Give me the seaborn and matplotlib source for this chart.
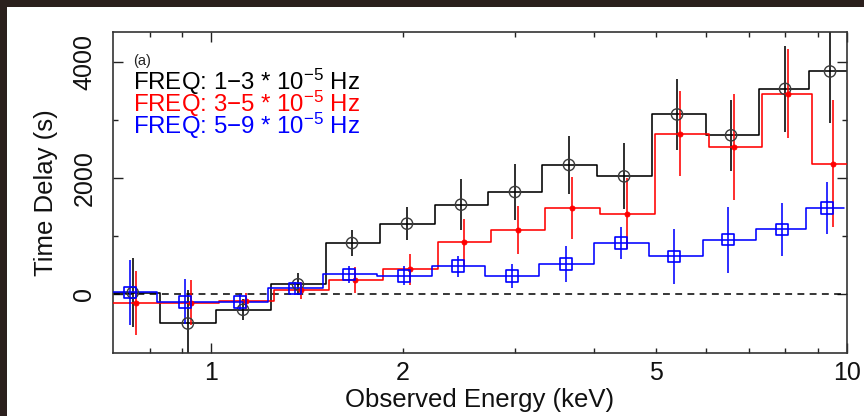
import numpy as np
import pandas as pd
import matplotlib
matplotlib.use("Agg")
import matplotlib.pyplot as plt
import seaborn as sns
from matplotlib.ticker import FixedLocator, FuncFormatter, NullFormatter
from matplotlib.patches import Rectangle

# ---------------- data ----------------
bin_edges = [0.680, 0.830, 1.016, 1.241, 1.514, 1.842, 2.247, 2.724, 3.313,
             4.043, 4.933, 6.001, 7.271, 8.714, 10.0]
energy = [0.752, 0.918, 1.121, 1.368, 1.664, 2.031, 2.470, 3.003, 3.652,
          4.459, 5.402, 6.570, 7.990, 9.404]

delay_f13 = [30, -500, -264, 175, 885, 1219, 1546, 1764, 2230, 2034, 3100, 2741, 3540, 3840]
err_f13 = [590, 570, 180, 190, 230, 280, 435, 490, 500, 570, 605, 610, 745, 880]

delay_f35 = [-145, -140, -110, 70, 250, 430, 902, 1103, 1488, 1391, 2770, 2540, 3460, 2253]
err_f35 = [555, 390, 140, 140, 230, 260, 390, 415, 540, 610, 730, 905, 760, 1090]

delay_f59 = [35, -125, -125, 105, 345, 320, 485, 316, 529, 885, 655, 943, 1121, 1488]
err_f59 = [560, 390, 140, 115, 150, 165, 185, 205, 310, 280, 480, 570, 460, 450]

labels = ["FREQ: 1\u22123 * 10$^{-5}$ Hz",
          "FREQ: 3\u22125 * 10$^{-5}$ Hz",
          "FREQ: 5\u22129 * 10$^{-5}$ Hz"]
x_tick_labels = {2: "2", 5: "5"}
y_ticks = [0, 2000, 4000]

# ---------------- style ----------------
sns.set_style("ticks")
plt.rcParams["font.family"] = ["Liberation Sans", "DejaVu Sans"]
plt.rcParams["mathtext.default"] = "regular"

fig = plt.figure(figsize=(8.64, 4.16), dpi=100)
fig.patch.set_facecolor("#2b201d")
fig.patches.append(Rectangle((7 / 864, 0), 1, 1 - 7 / 416, transform=fig.transFigure,
                             facecolor="white", edgecolor="none", zorder=-10))

ax = fig.add_axes([113 / 864, 1 - 352.5 / 416, 734 / 864, 320.5 / 416])
ax.set_zorder(1)
ax.set_facecolor("white")
ax.set_xscale("log")
ax.set_xlim(0.70, 10.0)
ax.set_ylim(-1000, 4520)

ax.axhline(0, color="black", lw=1.1, ls=(0, (4.5, 3.5)), zorder=1)

series = [
    (delay_f13, err_f13, "black", 1.0, dict(marker="o", s=66, facecolor="none", edgecolor="#3a3a3a", linewidth=1.0)),
    (delay_f35, err_f35, "red", 1.011, dict(marker="o", s=14, facecolor="red", edgecolor="red", linewidth=0.5)),
    (delay_f59, err_f59, "blue", 0.989, dict(marker="s", s=70, facecolor="none", edgecolor="blue", linewidth=1.2)),
]

for i, (vals, errs, col, shift, mk) in enumerate(series):
    edges = np.array(bin_edges) * shift
    xc = np.array(energy) * shift
    step_df = pd.DataFrame({"E": edges, "delay": list(vals) + [vals[-1]]})
    sns.lineplot(data=step_df, x="E", y="delay", drawstyle="steps-post", color=col,
                 lw=1.15, estimator=None, sort=False, ax=ax, zorder=2 + i)
    ax.errorbar(xc, vals, yerr=errs, fmt="none", ecolor=col, elinewidth=1.15,
                capsize=0, zorder=2 + i)
    pt_df = pd.DataFrame({"E": xc, "delay": vals})
    sns.scatterplot(data=pt_df, x="E", y="delay", ax=ax, zorder=5 + i, **mk)

# ---------------- axes / ticks ----------------
ax.xaxis.set_major_locator(FixedLocator([1, 10]))
ax.xaxis.set_minor_locator(FixedLocator([0.8, 0.9, 2, 3, 4, 5, 6, 7, 8, 9]))
ax.xaxis.set_major_formatter(FuncFormatter(lambda v, p: f"{v:g}"))
ax.xaxis.set_minor_formatter(FuncFormatter(lambda v, p: x_tick_labels.get(int(round(v)), "") if v >= 1 else ""))

ax.yaxis.set_major_locator(FixedLocator(y_ticks))
ax.yaxis.set_minor_locator(FixedLocator([1000, 3000]))
ax.yaxis.set_minor_formatter(NullFormatter())

ax.tick_params(which="both", direction="in", top=True, right=True, colors="#222222",
               labelcolor="#111111", labelsize=18, width=1.0)
ax.tick_params(which="major", length=7)
ax.tick_params(which="minor", length=3.5)
ax.tick_params(axis="x", which="both", pad=6)
ax.tick_params(axis="y", which="both", pad=12)
for lab in ax.get_yticklabels():
    lab.set_rotation(90)
    lab.set_va("center")
for sp in ax.spines.values():
    sp.set_linewidth(1.2)
    sp.set_color("#333333")

ax.set_xlabel("Observed Energy (keV)", fontsize=18.5, color="#111111")
ax.set_ylabel("Time Delay (s)", fontsize=18.5, color="#111111")
ax.xaxis.set_label_coords(0.5, -0.112)
ax.yaxis.set_label_coords(-0.075, 0.5)

# ---------------- annotation ----------------
ax.text(0.027, 0.897, "(a)", transform=ax.transAxes, fontsize=10.5, color="#222222", va="baseline")
for lab, col, yy in zip(labels, ["black", "red", "blue"], [0.819, 0.750, 0.683]):
    ax.text(0.027, yy, lab, transform=ax.transAxes, fontsize=17.3, color=col, va="baseline")

fig.savefig("out.png", dpi=100, facecolor=fig.get_facecolor())
